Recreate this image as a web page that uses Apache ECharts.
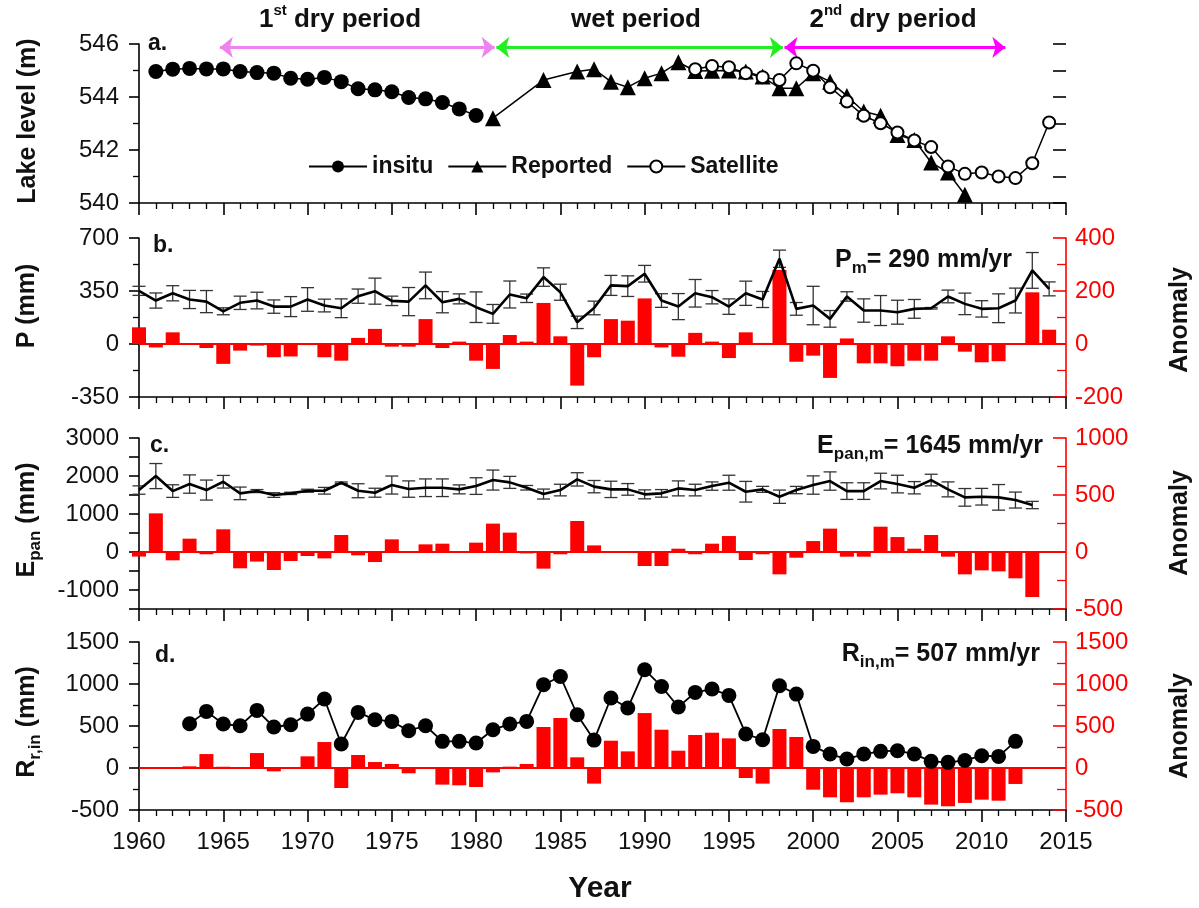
<!DOCTYPE html>
<html><head><meta charset="utf-8">
<script src="https://cdn.jsdelivr.net/npm/echarts@6/dist/echarts.min.js"></script>
<style>html,body{margin:0;padding:0;background:#fff}#c{width:1199px;height:908px}</style>
</head><body><div id="c"></div><script>
const F = "'Liberation Sans', Arial, sans-serif";
const range = (a, b) => Array.from({length: b - a + 1}, (_, i) => a + i);
const zip = (xs, ys) => xs.map((x, i) => [x, ys[i]]);

// ---- Panel a: lake level (m)
const insituYears = range(1961, 1980);
const insituLevel = [544.96,545.05,545.08,545.06,545.06,544.96,544.92,544.90,544.71,544.67,544.74,544.58,544.31,544.27,544.20,543.98,543.93,543.79,543.55,543.30];
const reportedYears = [1981,1984,1986,1987,1988,1989,1990,1991,1992,1993,1994,1995,1996,1997,1998,1999,2000,2001,2002,2003,2004,2005,2006,2007,2008,2009];
const reportedLevel = [543.20,544.64,544.96,545.05,544.58,544.37,544.71,544.90,545.31,544.98,544.99,545.00,544.96,544.77,544.33,544.33,544.90,544.58,544.04,543.45,543.29,542.57,542.38,541.53,541.15,540.31];
const satYears = range(1993, 2014);
const satLevel = [545.05,545.17,545.12,544.90,544.75,544.64,545.27,544.99,544.37,543.83,543.29,543.01,542.66,542.36,542.11,541.38,541.10,541.15,541.00,540.94,541.50,543.04];
const periods = [
  {label: ['1', 'st', ' dry period'], from: 1964.8, to: 1981.1, arrow: '#ee82ee', text: '#ee82ee', tx: 340},
  {label: ['wet period', '', ''], from: 1981.2, to: 1998.2, arrow: '#22ee22', text: '#22ee22', tx: 636},
  {label: ['2', 'nd', ' dry period'], from: 1998.3, to: 2011.4, arrow: '#ff00ff', text: '#ee82ee', tx: 893}
];

// ---- Panel b: precipitation (mm), anomaly
const pYears = range(1960, 2014);
const pVal = [351,287,335,294,280,216,272,287,247,247,294,254,236,316,349,285,280,387,276,298,243,199,327,302,442,342,143,238,387,382,464,287,247,335,309,247,335,294,563,232,254,166,314,221,221,210,232,236,314,265,232,236,287,486,364];
const pErr = [30,50,50,60,73,23,44,55,44,66,78,42,62,47,86,31,93,88,70,33,101,62,89,28,61,53,41,45,66,68,55,45,86,91,44,51,80,53,57,42,127,55,31,77,99,79,62,5,42,71,54,95,82,118,46];
const pAnom = [63,-13,44,-3,-15,-75,-25,-6,-50,-47,-4,-50,-63,23,57,-10,-10,94,-15,9,-63,-94,34,9,155,29,-157,-50,94,88,172,-13,-48,42,9,-53,44,4,279,-67,-44,-128,21,-73,-73,-84,-63,-63,29,-29,-69,-65,-3,195,54];

// ---- Panel c: pan evaporation (mm), anomaly
const eYears = range(1960, 2013);
const eVal = [1630,1998,1603,1788,1630,1849,1543,1603,1499,1543,1612,1612,1823,1612,1560,1762,1656,1691,1691,1648,1735,1893,1832,1691,1525,1630,1911,1720,1648,1648,1517,1543,1674,1630,1735,1823,1586,1648,1455,1630,1762,1867,1603,1603,1867,1788,1691,1893,1648,1438,1455,1438,1367,1236];
const eErr = [110,330,166,241,263,166,166,40,61,30,40,88,20,184,118,237,215,232,232,118,219,263,158,60,131,153,175,162,215,153,118,100,197,153,110,197,272,79,175,96,241,241,219,219,206,232,162,153,197,232,219,337,210,96];
const eAnom = [-40,339,-73,117,-20,199,-143,-84,-158,-79,-35,-56,149,-29,-88,111,-3,67,73,2,82,249,170,-12,-146,-20,272,58,9,-3,-123,-123,29,-20,73,140,-70,-20,-196,-50,96,205,-41,-41,222,131,29,149,-41,-196,-161,-170,-231,-395];

// ---- Panel d: river inflow (mm), anomaly
const rYears = range(1963, 2012);
const rVal = [527,674,523,503,686,488,515,642,821,286,662,575,555,444,503,317,317,297,456,523,555,991,1090,634,332,833,714,1170,971,726,900,940,864,405,337,979,880,257,166,107,166,198,206,166,79,67,90,146,138,317];
const rAnom = [20,166,15,-4,178,-40,8,139,309,-238,155,71,48,-63,-4,-198,-206,-226,-52,16,48,488,595,127,-186,325,198,654,456,206,393,420,353,-119,-186,464,369,-258,-349,-408,-349,-317,-301,-349,-436,-456,-416,-377,-389,-190];

// ---- axis tick settings
const xTicks = {min: 1960, max: 2015, interval: 5};

const chart = echarts.init(document.getElementById('c'), null, {renderer: 'canvas'});

const GL = 139, GW = 927;
const grids = [
  {left: GL, width: GW, top: 44, height: 159},
  {left: GL, width: GW, top: 238, height: 159},
  {left: GL, width: GW, top: 438, height: 171},
  {left: GL, width: GW, top: 642, height: 168}
];
const plain = v => String(v);

function mkX(i, showLabel) {
  return {
    type: 'value', gridIndex: i, min: xTicks.min, max: xTicks.max, interval: xTicks.interval,
    axisLine: {show: true, onZero: false, lineStyle: {color: '#000', width: 1.6}},
    axisTick: {show: true, inside: false, length: 12, lineStyle: {color: '#000', width: 1.6}},
    minorTick: {show: true, splitNumber: 5, length: 6, lineStyle: {color: '#000', width: 1.3}},
    axisLabel: {show: showLabel, fontFamily: F, fontSize: 24, color: '#111', margin: 20, formatter: plain},
    splitLine: {show: false}, minorSplitLine: {show: false}
  };
}
function mkY(i, pos, min, max, interval, minorSplit, color, opts) {
  opts = opts || {};
  return {
    type: 'value', gridIndex: i, position: pos, min, max, interval,
    axisLine: {show: opts.line !== false, onZero: false, lineStyle: {color, width: 1.6}},
    axisTick: {show: true, inside: !!opts.inside, length: opts.tickLen || 10, lineStyle: {color, width: 1.6}},
    minorTick: {show: minorSplit > 1, splitNumber: minorSplit, length: opts.minorLen || 6, lineStyle: {color, width: 1.3}},
    axisLabel: {show: opts.label !== false, fontFamily: F, fontSize: 24, color: color === '#000' ? '#111' : color,
      margin: opts.margin || 20, formatter: opts.formatter || plain},
    splitLine: {show: false}, minorSplitLine: {show: false}
  };
}

function errSeries(xi, yi, years, vals, errs) {
  return {
    type: 'custom', xAxisIndex: xi, yAxisIndex: yi, z: 4, silent: true,
    data: years.map((y, i) => [y, vals[i], errs[i]]),
    encode: {x: 0, y: 1},
    renderItem: (params, api) => {
      const x = api.value(0), v = api.value(1), e = api.value(2);
      const t = api.coord([x, v + e]), b = api.coord([x, v - e]);
      const w = 6.5;
      const st = {stroke: '#333', lineWidth: 1.3};
      return {type: 'group', children: [
        {type: 'line', shape: {x1: t[0], y1: t[1], x2: b[0], y2: b[1]}, style: st},
        {type: 'line', shape: {x1: t[0] - w, y1: t[1], x2: t[0] + w, y2: t[1]}, style: st},
        {type: 'line', shape: {x1: b[0] - w, y1: b[1], x2: b[0] + w, y2: b[1]}, style: st}
      ]};
    }
  };
}
const zeroLine = {silent: true, symbol: 'none', label: {show: false},
  lineStyle: {color: '#ff0000', width: 2, type: 'solid'}, data: [{yAxis: 0}]};
function barSeries(xi, yi, years, vals) {
  return {type: 'bar', xAxisIndex: xi, yAxisIndex: yi, z: 2, barWidth: 14, silent: true, clip: true,
    itemStyle: {color: '#ff0000'}, data: zip(years, vals), markLine: zeroLine};
}

const rich = {
  b: {fontFamily: F, fontSize: 25, fontWeight: 'bold', color: '#111', lineHeight: 34},
  s: {fontFamily: F, fontSize: 17, fontWeight: 'bold', color: '#111', lineHeight: 16, verticalAlign: 'bottom'}
};
function txt(text, x, y, o) {
  o = o || {};
  return {type: 'text', x, y, rotation: o.rot || 0, silent: true, z: 100,
    style: {text, align: o.align || 'center', verticalAlign: 'middle', rich: o.rich || rich,
      font: o.font || ('bold 25px ' + F), fill: o.fill || '#111'}};
}
const graphics = [
  txt('Lake level (m)', 28, 121, {rot: Math.PI / 2}),
  txt('P (mm)', 27, 306, {rot: Math.PI / 2}),
  txt('{b|E}{s|pan}{b| (mm)}', 27, 520, {rot: Math.PI / 2}),
  txt('{b|R}{s|r,in}{b| (mm)}', 27, 722, {rot: Math.PI / 2}),
  txt('Anomaly', 1180, 320, {rot: Math.PI / 2}),
  txt('Anomaly', 1180, 523, {rot: Math.PI / 2}),
  txt('Anomaly', 1180, 726, {rot: Math.PI / 2}),
  txt('Year', 600, 889, {font: 'bold 30px ' + F}),
  txt('a.', 148, 44, {align: 'left', font: 'bold 23px ' + F}),
  txt('b.', 153, 246, {align: 'left', font: 'bold 23px ' + F}),
  txt('c.', 150, 446, {align: 'left', font: 'bold 23px ' + F}),
  txt('d.', 155, 656, {align: 'left', font: 'bold 23px ' + F}),
  txt('{b|P}{s|m}{b|= 290 mm/yr}', 1012, 260, {align: 'right'}),
  txt('{b|E}{s|pan,m}{b|= 1645 mm/yr}', 1043, 446, {align: 'right'}),
  txt('{b|R}{s|in,m}{b|= 507 mm/yr}', 1040, 654, {align: 'right'})
];
periods.forEach(p => {
  const PF = "'Liberation Sans Narrow', 'Liberation Sans', Arial";
  const pr = {
    m: {fontFamily: PF, fontSize: 26, fontWeight: 'bold', color: p.text, lineHeight: 34},
    u: {fontFamily: PF, fontSize: 15, fontWeight: 'bold', color: p.text, lineHeight: 14, verticalAlign: 'top'}
  };
  const t = '{m|' + p.label[0] + '}' + (p.label[1] ? '{u|' + p.label[1] + '}' : '') + (p.label[2] ? '{m|' + p.label[2] + '}' : '');
  graphics.push(txt(t, p.tx, 20, {rich: pr}));
});

const arrowLine = {
  silent: true, symbol: ['arrow', 'arrow'], symbolSize: [16, 13], label: {show: false},
  data: periods.map(p => [
    {coord: [p.from, 545.87], lineStyle: {color: p.arrow, width: 3, type: 'solid'}, itemStyle: {color: p.arrow}},
    {coord: [p.to, 545.87]}
  ])
};

const rightOpts = {inside: true, margin: 9, tickLen: 13, minorLen: 9};
const option = {
  animation: false,
  backgroundColor: '#fff',
  grid: grids,
  xAxis: [mkX(0, false), mkX(1, false), mkX(2, false), mkX(3, true)],
  yAxis: [
    mkY(0, 'left', 540, 546, 2, 2, '#000'),
    mkY(0, 'right', 540, 546, 1, 1, '#000', {label: false, inside: true, line: false, tickLen: 13}),
    mkY(1, 'left', -350, 700, 350, 2, '#000'),
    mkY(1, 'right', -200, 400, 200, 2, '#ff0000', rightOpts),
    mkY(2, 'left', -1500, 3000, 500, 1, '#000', {formatter: v => (v % 1000 === 0 && v > -1500) ? String(v) : ''}),
    mkY(2, 'right', -500, 1000, 500, 2, '#ff0000', rightOpts),
    mkY(3, 'left', -500, 1500, 500, 2, '#000'),
    mkY(3, 'right', -500, 1500, 500, 2, '#ff0000', rightOpts)
  ],
  legend: {
    data: ['insitu', 'Reported', 'Satellite'], left: 303, top: 150, itemWidth: 58, itemHeight: 15, itemGap: 14,
    textStyle: {fontFamily: F, fontSize: 23, fontWeight: 'bold', color: '#111'}
  },
  graphic: graphics,
  series: [
    {name: 'insitu', type: 'line', xAxisIndex: 0, yAxisIndex: 0, z: 4, data: zip(insituYears, insituLevel),
      symbol: 'circle', symbolSize: 15, itemStyle: {color: '#000'}, lineStyle: {color: '#000', width: 1.5},
      markLine: arrowLine},
    {name: 'Reported', type: 'line', xAxisIndex: 0, yAxisIndex: 0, z: 4, data: zip(reportedYears, reportedLevel),
      symbol: 'triangle', symbolSize: 16, itemStyle: {color: '#000'}, lineStyle: {color: '#000', width: 1.5}},
    {name: 'Satellite', type: 'line', xAxisIndex: 0, yAxisIndex: 0, z: 5, data: zip(satYears, satLevel),
      symbol: 'emptyCircle', symbolSize: 12, showAllSymbol: true, itemStyle: {color: '#000', borderWidth: 2.2},
      lineStyle: {color: '#000', width: 1.5}},

    barSeries(1, 3, pYears, pAnom),
    {name: 'P', type: 'line', xAxisIndex: 1, yAxisIndex: 2, z: 5, data: zip(pYears, pVal), symbol: 'none',
      lineStyle: {color: '#000', width: 2.6}},
    errSeries(1, 2, pYears, pVal, pErr),

    barSeries(2, 5, eYears, eAnom),
    {name: 'Epan', type: 'line', xAxisIndex: 2, yAxisIndex: 4, z: 5, data: zip(eYears, eVal), symbol: 'none',
      lineStyle: {color: '#000', width: 2.6}},
    errSeries(2, 4, eYears, eVal, eErr),

    barSeries(3, 7, rYears, rAnom),
    {name: 'Rin', type: 'line', xAxisIndex: 3, yAxisIndex: 6, z: 5, data: zip(rYears, rVal),
      symbol: 'circle', symbolSize: 15, showAllSymbol: true, itemStyle: {color: '#000'}, lineStyle: {color: '#000', width: 1.8}}
  ]
};
chart.setOption(option);
</script></body></html>
